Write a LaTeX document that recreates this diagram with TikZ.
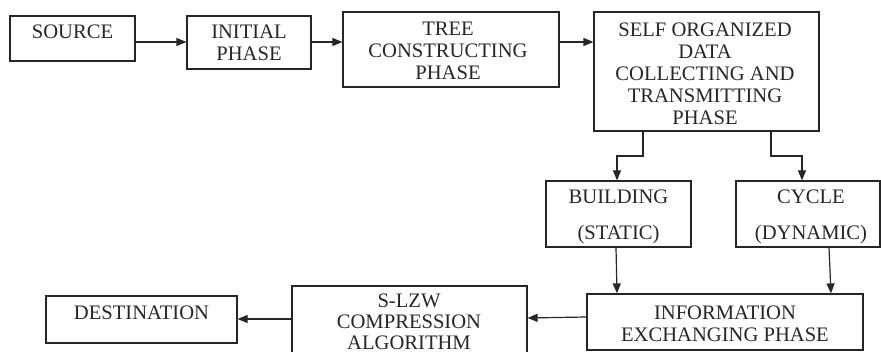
\documentclass[tikz,border=0pt]{standalone}
\usepackage{fontspec}
\setmainfont{Liberation Serif}
\usetikzlibrary{arrows.meta}
\begin{document}
\begin{tikzpicture}[x={(1pt,0pt)},y={(0pt,-1pt)},
  box/.style={draw=black!85, line width=1.2pt, rectangle, inner sep=0pt},
  txt/.style={inner sep=0pt, align=center, text=black!85, font=\fontsize{20.6}{22}\selectfont},
  arr/.style={draw=black!85, line width=1.2pt, -{Triangle[length=10pt,width=8pt]}}]
\useasboundingbox (0,0) rectangle (881,352);
\clip (0,0) rectangle (881,352);
% boxes
\node[box, minimum width=125pt, minimum height=45pt] (src) at (72.5,38.5) {};
\node[box, minimum width=124pt, minimum height=53pt] (init) at (249,42.5) {};
\node[box, minimum width=216pt, minimum height=75pt] (tree) at (451,49.5) {};
\node[box, minimum width=225pt, minimum height=119pt] (self) at (706.5,71.5) {};
\node[box, minimum width=145pt, minimum height=66pt] (bld) at (618.5,214) {};
\node[box, minimum width=144pt, minimum height=66pt] (cyc) at (808,214) {};
\node[box, minimum width=276pt, minimum height=56pt] (info) at (725,322) {};
\node[box, minimum width=235pt, minimum height=80pt] (slzw) at (409.5,326) {};
\node[box, minimum width=191pt, minimum height=47pt] (dest) at (141.5,319.5) {};
% texts
\node[txt] (srct) at (72.5,32) {SOURCE};
\node[txt] (initt) at (249,43) {INITIAL\\PHASE};
\node[txt] (treet) at (448,51) {TREE\\CONSTRUCTING\\PHASE};
\node[txt] (selft) at (705,73.5) {SELF ORGANIZED\\DATA\\COLLECTING AND\\TRANSMITTING\\PHASE};
\node[txt] (bldt) at (618.5,217) {BUILDING\\[14pt](STATIC)};
\node[txt] (cyct) at (811,217) {CYCLE\\[14pt](DYNAMIC)};
\node[txt] (infot) at (725,323.5) {INFORMATION\\EXCHANGING PHASE};
\node[txt, font=\fontsize{20.6}{21}\selectfont] (slzwt) at (409,321.5) {S-LZW\\COMPRESSION\\ALGORITHM};
\node[txt] (destt) at (141.5,313) {DESTINATION};
% connectors
\draw[arr] (src.east |- 0,42) -- (init.west |- 0,42);
\draw[arr] (init.east |- 0,42) -- (tree.west |- 0,42);
\draw[arr] (tree.east |- 0,42) -- (self.west |- 0,42);
\draw[arr] (self.south -| 643,0) -- (643,156) -- (617,156) -- (bld.north -| 617,0);
\draw[arr] (self.south -| 771,0) -- (771,156) -- (802,156) -- (cyc.north -| 802,0);
\draw[arr] (bld.south -| 616,0) -- (info.north -| 617,0);
\draw[arr] (cyc.south -| 829,0) -- (info.north -| 831,0);
\draw[arr] (info.west |- 0,317) -- (slzw.east |- 0,318);
\draw[arr] (slzw.west |- 0,319) -- (dest.east |- 0,319);
\end{tikzpicture}
\end{document}
